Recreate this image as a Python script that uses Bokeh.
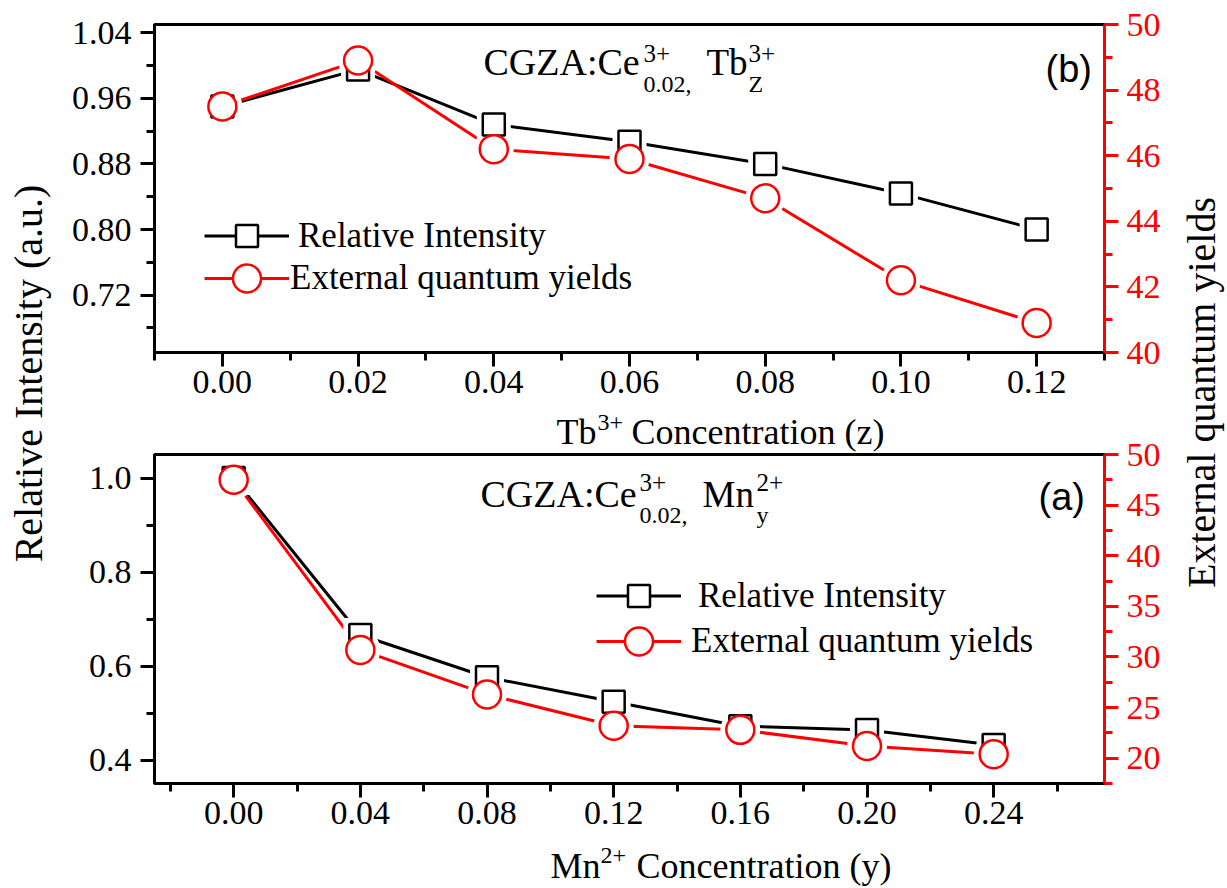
import math
from bokeh.plotting import figure
from bokeh.models import (Range1d, LinearAxis, FixedTicker, PrintfTickFormatter, Label,
                          Legend, LegendItem, ColumnDataSource)
from bokeh.layouts import row, column
from bokeh.embed import file_html
from bokeh.resources import INLINE

# ---------------- data ----------------
tb_conc = [0.00, 0.02, 0.04, 0.06, 0.08, 0.10, 0.12]
tb_rel_intensity = [0.950, 0.995, 0.928, 0.907, 0.880, 0.844, 0.800]
tb_eqy = [47.5, 48.9, 46.2, 45.9, 44.7, 42.2, 40.9]

mn_conc = [0.00, 0.04, 0.08, 0.12, 0.16, 0.20, 0.24]
mn_rel_intensity = [1.000, 0.666, 0.576, 0.524, 0.472, 0.464, 0.432]
mn_eqy = [47.5, 30.7, 26.3, 23.2, 22.8, 21.2, 20.4]

tb_x_ticks = [0.00, 0.02, 0.04, 0.06, 0.08, 0.10, 0.12]
tb_x_minor = [-0.01, 0.01, 0.03, 0.05, 0.07, 0.09, 0.11, 0.13]
tb_y_ticks = [0.72, 0.80, 0.88, 0.96, 1.04]
tb_y_minor = [0.68, 0.76, 0.84, 0.92, 1.00]
tb_y2_ticks = [40, 42, 44, 46, 48, 50]
tb_y2_minor = [41, 43, 45, 47, 49]

mn_x_ticks = [0.00, 0.04, 0.08, 0.12, 0.16, 0.20, 0.24]
mn_x_minor = [-0.02, 0.02, 0.06, 0.10, 0.14, 0.18, 0.22, 0.26]
mn_y_ticks = [0.4, 0.6, 0.8, 1.0]
mn_y_minor = [0.5, 0.7, 0.9]
mn_y2_ticks = [20, 25, 30, 35, 40, 45, 50]
mn_y2_minor = [17.5, 22.5, 27.5, 32.5, 37.5, 42.5, 47.5]

legend_labels = ["Relative Intensity", "External quantum yields"]

SERIF = "Liberation Serif"
SANS = "Liberation Sans"
RED = "#ff0000"
BASE_SHIFT = 0.35  # observed offset of the alphabetic baseline, in em


def style_axis(ax, ticks, minor, fmt, color, standoff):
    ax.ticker = FixedTicker(ticks=ticks, minor_ticks=minor)
    ax.formatter = PrintfTickFormatter(format=fmt)
    ax.axis_line_width = 3
    ax.axis_line_color = color
    ax.major_tick_line_width = 3
    ax.major_tick_line_color = color
    ax.minor_tick_line_width = 3
    ax.minor_tick_line_color = color
    ax.major_tick_in = 0
    ax.major_tick_out = 14
    ax.minor_tick_in = 0
    ax.minor_tick_out = 8
    ax.major_label_text_font = SERIF
    ax.major_label_text_font_size = "34px"
    ax.major_label_text_color = color
    ax.major_label_standoff = standoff


def lab(p, text, x, y, size, font=SERIF, color="black", align="left", rotated=False):
    if rotated:
        x = x - BASE_SHIFT * size
        angle = math.pi / 2
    else:
        y = y + BASE_SHIFT * size
        angle = 0.0
    p.add_layout(Label(x=x, y=y, x_units="screen", y_units="screen", text=text,
                       text_font=font, text_font_size=f"{size}px", text_color=color,
                       text_baseline="alphabetic", text_align=align, angle=angle))


def make_panel(x, rel, eqy, xr, yr, y2r, xt, xm, yt, ym, y2t, y2m, xfmt, yfmt,
               height, btop, bbottom, leg_x, leg_y, standoffs, **kw):
    p = figure(width=1110, height=height, x_range=Range1d(*xr), y_range=Range1d(*yr),
               output_backend="svg", toolbar_location=None,
               min_border_left=94, min_border_right=66,
               min_border_top=btop, min_border_bottom=bbottom,
               background_fill_color="white", outline_line_color="black",
               outline_line_width=3, **kw)
    p.extra_y_ranges = {"qy": Range1d(*y2r)}
    p.xgrid.visible = False
    p.ygrid.visible = False
    style_axis(p.xaxis[0], xt, xm, xfmt, "black", 4)
    style_axis(p.yaxis[0], yt, ym, yfmt, "black", 9)
    ax2 = LinearAxis(y_range_name="qy")
    style_axis(ax2, y2t, y2m, "%d", RED, 8)
    p.add_layout(ax2, "right")

    src = ColumnDataSource(dict(x=x, rel=rel, eqy=eqy))
    bl = p.line("x", "rel", source=src, line_color="black", line_width=3)
    rl = p.line("x", "eqy", source=src, y_range_name="qy", line_color=RED, line_width=3)
    p.scatter("x", "rel", source=src, marker="square", size=34,
              fill_color="white", line_color=None)
    p.scatter("x", "eqy", source=src, y_range_name="qy", marker="circle", size=40,
              fill_color="white", line_color=None)
    bs = p.scatter("x", "rel", source=src, marker="square", size=22,
                   fill_color="white", line_color="black", line_width=2.5)
    rs = p.scatter("x", "eqy", source=src, y_range_name="qy", marker="circle", size=28,
                   fill_color="white", line_color=RED, line_width=2.5)

    # one legend per entry so each row can be placed like the reference
    for item, gh, ly, so in ((LegendItem(label=legend_labels[0], renderers=[bl, bs]), 55, leg_y[0], standoffs[0]),
                             (LegendItem(label=legend_labels[1], renderers=[rl, rs]), 70, leg_y[1], standoffs[1])):
        leg = Legend(items=[item], location=(leg_x, ly), glyph_width=85, glyph_height=gh,
                     spacing=0, padding=0, margin=0, label_standoff=so,
                     label_text_font=SERIF, label_text_font_size="35px",
                     label_text_color="black",
                     border_line_color=None, background_fill_alpha=0)
        p.add_layout(leg)
    return p


def blank(width, height):
    s = figure(width=width, height=height, x_range=Range1d(0, 1), y_range=Range1d(0, 1),
               output_backend="svg", toolbar_location=None, min_border=0,
               outline_line_color=None, x_axis_location=None, y_axis_location=None,
               background_fill_color="white", border_fill_color="white")
    s.grid.visible = False
    return s


# page rows: top panel 0-408, title 408-452, bottom panel 432-839 (overlapping the
# transparent top border with the title strip), title 839-888
top = make_panel(tb_conc, tb_rel_intensity, tb_eqy, (-0.01, 0.13), (0.65, 1.05), (40, 50),
                 tb_x_ticks, tb_x_minor, tb_y_ticks, tb_y_minor, tb_y2_ticks, tb_y2_minor,
                 "%.2f", "%.2f", 408, 24, 56, 50, (89, 39), (9, 1),
                 border_fill_color="white")
bottom = make_panel(mn_conc, mn_rel_intensity, mn_eqy, (-0.025, 0.275), (0.35, 1.05), (17.5, 50),
                    mn_x_ticks, mn_x_minor, mn_y_ticks, mn_y_minor, mn_y2_ticks, mn_y2_minor,
                    "%.2f", "%.1f", 407, 22, 56, 442, (160, 107), (17, 10),
                    border_fill_alpha=0, margin=(-20, 0, 0, 0))

# annotations, top panel (baseline, screen px from frame bottom-left)
lab(top, "CGZA:Ce", 329, 277, 38)
lab(top, "3+", 489, 290, 25)
lab(top, "0.02,", 489, 260, 24)
lab(top, "Tb", 552, 277, 37)
lab(top, "3+", 594, 290, 25)
lab(top, "Z", 594, 260, 24)
lab(top, "(b)", 891, 270, 38, font=SANS)

# annotations, bottom panel
lab(bottom, "CGZA:Ce", 326, 276, 38)
lab(bottom, "3+", 485, 292, 25)
lab(bottom, "0.02,", 485, 260, 24)
lab(bottom, "Mn", 548, 276, 37)
lab(bottom, "2+", 602, 292, 25)
lab(bottom, "y", 602, 260, 24)
lab(bottom, "(a)", 884, 273, 38, font=SANS)

# x-axis titles (own strips under each panel)
top_title = blank(1110, 44)
lab(top_title, "Tb", 402, 8, 36)
lab(top_title, "3+", 443, 22, 24)
lab(top_title, "Concentration (z)", 477, 8, 36)

bottom_title = blank(1110, 49)
lab(bottom_title, "Mn", 396, 10, 36)
lab(bottom_title, "2+", 446, 25, 24)
lab(bottom_title, "Concentration (y)", 482, 10, 36)

# y-axis titles spanning both panels
left = blank(60, 888)
left.x_range = Range1d(0, 60)
left.y_range = Range1d(0, 888)
lab(left, "Relative Intensity (a.u.)", 42, 515, 40, align="center", rotated=True)

right = blank(57, 888)
right.x_range = Range1d(0, 57)
right.y_range = Range1d(0, 888)
lab(right, "External quantum yields", 45, 496, 40, align="center", rotated=True)

layout = row(left, column(top, top_title, bottom, bottom_title), right)
open("out.html", "w").write(file_html(layout, INLINE))
